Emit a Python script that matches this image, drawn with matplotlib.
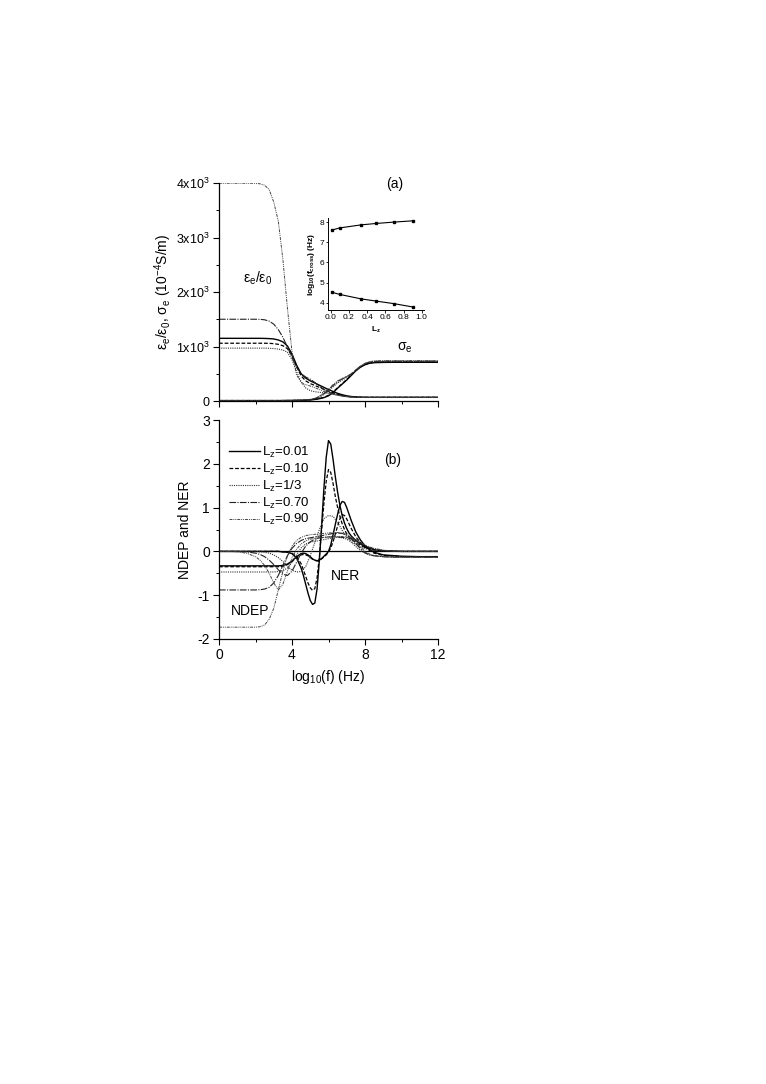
import matplotlib
matplotlib.use("Agg")
import matplotlib.pyplot as plt
from matplotlib.ticker import MultipleLocator, FixedLocator

plt.rcParams['font.family'] = ['Liberation Sans', 'DejaVu Sans']
plt.rcParams['mathtext.default'] = 'regular'
plt.rcParams['axes.unicode_minus'] = False

# ---------------- data ----------------
logf = [0, 0.5, 1, 1.5, 2, 2.25, 2.5, 2.75, 3, 3.25, 3.5, 3.75, 4, 4.25, 4.5, 4.75,
        5, 5.25, 5.5, 5.75, 6, 6.25, 6.5, 6.75, 7, 7.25, 7.5, 7.75, 8, 8.25, 8.5,
        9, 9.5, 10, 11, 12]
# finer sampling used for the sharp L_z=0.01 / 0.10 curves of panel (b)
logf_fine = [0, 1, 2, 2.5, 3, 3.25, 3.5, 3.75, 4, 4.25, 4.5,
             4.625, 4.75, 4.875, 5, 5.125, 5.25, 5.375, 5.5, 5.625, 5.75, 5.875, 6,
             6.125, 6.25, 6.375, 6.5, 6.625, 6.75, 6.875, 7, 7.125, 7.25,
             7.5, 7.75, 8, 8.25, 8.5, 9, 10, 11, 12]

labels = ['L$_z$=0.01', 'L$_z$=0.10', 'L$_z$=1/3', 'L$_z$=0.70', 'L$_z$=0.90']

# (a) effective permittivity eps_e/eps_0
eps_001 = [1150, 1150, 1150, 1150, 1150, 1150, 1148, 1145, 1138, 1120, 1085, 1010, 860, 660, 500, 420,
           370, 330, 290, 250, 210, 175, 140, 115, 95, 82, 75, 71, 69, 68, 68, 68, 68, 68, 68, 68]
eps_010 = [1060, 1060, 1060, 1060, 1060, 1060, 1060, 1058, 1052, 1040, 1015, 960, 830, 630, 460, 370,
           320, 285, 250, 215, 180, 150, 122, 100, 85, 76, 71, 68, 67, 67, 67, 67, 67, 67, 67, 67]
eps_13 = [970, 970, 970, 970, 970, 970, 970, 968, 962, 952, 935, 895, 760, 540, 350, 240,
          190, 170, 160, 150, 140, 125, 108, 92, 80, 72, 68, 66, 65, 65, 65, 65, 65, 65, 65, 65]
eps_070 = [1500, 1500, 1500, 1500, 1500, 1498, 1490, 1465, 1410, 1310, 1170, 990, 800, 620, 500, 440,
           400, 340, 270, 210, 165, 135, 112, 95, 83, 75, 70, 67, 65, 65, 65, 65, 65, 65, 65, 65]
eps_090 = [3995, 3995, 3995, 3995, 3995, 3985, 3960, 3880, 3650, 3300, 2600, 1700, 900, 480, 340, 300,
           275, 245, 210, 175, 145, 122, 104, 90, 80, 73, 68, 66, 64, 64, 64, 64, 64, 64, 64, 64]

# (a) effective conductivity sigma_e (1e-4 S/m)
sig_001 = [8, 8, 8, 8, 8, 8, 8, 8, 8, 8, 8, 9, 9, 10, 11, 14,
           20, 28, 42, 62, 95, 155, 235, 310, 385, 470, 555, 620, 665, 692, 703, 708, 710, 710, 710, 710]
sig_010 = [8, 8, 8, 8, 8, 8, 8, 8, 8, 8, 8, 9, 9, 10, 12, 16,
           22, 32, 46, 68, 105, 165, 245, 320, 395, 478, 560, 625, 670, 697, 710, 716, 716, 716, 716, 716]
sig_13 = [8, 8, 8, 8, 8, 8, 8, 8, 8, 8, 9, 10, 11, 13, 16, 20,
          25, 40, 70, 120, 185, 260, 330, 385, 430, 490, 560, 630, 680, 708, 720, 725, 725, 725, 725, 725]
sig_070 = [8, 8, 8, 8, 8, 8, 8, 8, 8, 8, 9, 10, 11, 14, 17, 22,
           28, 45, 80, 135, 205, 285, 355, 405, 445, 500, 570, 638, 688, 715, 728, 732, 732, 732, 732, 732]
sig_090 = [8, 8, 8, 8, 8, 8, 8, 8, 8, 9, 10, 11, 12, 15, 18, 24,
           30, 50, 88, 145, 220, 300, 370, 415, 450, 500, 570, 640, 692, 722, 735, 740, 740, 740, 740, 740]

# (b) NDEP (real part) and NER (imaginary part); 0.01 and 0.10 on logf_fine
ndep_001 = [-0.33, -0.33, -0.33, -0.33, -0.33, -0.33, -0.32, -0.29, -0.22, -0.12, -0.05,
            -0.04, -0.05, -0.08, -0.12, -0.17, -0.20, -0.22, -0.20, -0.16, -0.11, -0.06, 0.00,
            0.15, 0.38, 0.62, 0.85, 1.05, 1.14, 1.12, 1.00, 0.85, 0.70,
            0.44, 0.26, 0.13, 0.04, -0.02, -0.08, -0.11, -0.12, -0.12]
ner_001 = [0, 0, 0, 0, 0, 0, -0.01, -0.02, -0.05, -0.15, -0.38,
           -0.55, -0.75, -0.95, -1.12, -1.21, -1.18, -0.85, -0.20, 0.60, 1.45, 2.15, 2.53,
           2.45, 2.10, 1.70, 1.35, 1.05, 0.82, 0.65, 0.52, 0.42, 0.35,
           0.25, 0.17, 0.11, 0.07, 0.04, 0.01, 0, 0, 0]
ndep_010 = [-0.35, -0.35, -0.35, -0.35, -0.35, -0.35, -0.34, -0.30, -0.23, -0.14, -0.08,
            -0.07, -0.08, -0.10, -0.14, -0.18, -0.20, -0.21, -0.20, -0.17, -0.13, -0.08, -0.02,
            0.08, 0.22, 0.40, 0.58, 0.74, 0.84, 0.82, 0.74, 0.63, 0.52,
            0.33, 0.20, 0.10, 0.02, -0.04, -0.09, -0.12, -0.12, -0.12]
ner_010 = [0, 0, 0, 0, 0, 0, -0.01, -0.02, -0.04, -0.12, -0.28,
           -0.42, -0.57, -0.72, -0.83, -0.89, -0.85, -0.60, -0.12, 0.50, 1.10, 1.60, 1.87,
           1.80, 1.55, 1.25, 1.00, 0.80, 0.63, 0.50, 0.40, 0.33, 0.28,
           0.20, 0.14, 0.09, 0.05, 0.03, 0.01, 0, 0, 0]
ndep_13 = [-0.47, -0.47, -0.47, -0.47, -0.47, -0.47, -0.47, -0.47, -0.47, -0.46, -0.44, -0.38, -0.25, -0.08,
           0.08, 0.17, 0.21, 0.23, 0.25, 0.27, 0.29, 0.31, 0.32, 0.31, 0.28, 0.21, 0.11, 0.02, -0.04,
           -0.08, -0.10, -0.12, -0.13, -0.13, -0.13, -0.13]
ner_13 = [0, 0, 0, 0, 0, -0.01, -0.02, -0.04, -0.08, -0.14, -0.23, -0.34, -0.43, -0.47, -0.46, -0.35,
          -0.10, 0.20, 0.50, 0.75, 0.82, 0.80, 0.66, 0.48, 0.33, 0.23, 0.16, 0.10, 0.06, 0.04, 0.02,
          0.01, 0, 0, 0, 0]
ndep_070 = [-0.88, -0.88, -0.88, -0.88, -0.88, -0.875, -0.86, -0.82, -0.72, -0.55, -0.32, -0.10, 0.07, 0.18,
            0.25, 0.29, 0.31, 0.33, 0.35, 0.37, 0.39, 0.41, 0.42, 0.41, 0.37, 0.30, 0.18, 0.06, -0.03,
            -0.08, -0.10, -0.12, -0.13, -0.13, -0.13, -0.13]
ner_070 = [0, 0, 0, -0.01, -0.04, -0.07, -0.12, -0.20, -0.30, -0.42, -0.52, -0.55, -0.45, -0.25, -0.04, 0.12,
           0.22, 0.28, 0.31, 0.32, 0.33, 0.33, 0.33, 0.32, 0.31, 0.28, 0.24, 0.19, 0.13, 0.09, 0.06,
           0.02, 0.01, 0, 0, 0]
ndep_090 = [-1.73, -1.73, -1.73, -1.73, -1.73, -1.72, -1.68, -1.55, -1.30, -0.88, -0.45, -0.10, 0.12, 0.25,
            0.32, 0.36, 0.38, 0.39, 0.40, 0.41, 0.42, 0.43, 0.43, 0.42, 0.39, 0.33, 0.22, 0.10, 0.00,
            -0.06, -0.09, -0.12, -0.13, -0.13, -0.13, -0.13]
ner_090 = [0, 0, -0.01, -0.04, -0.12, -0.20, -0.32, -0.50, -0.72, -0.88, -0.75, -0.45, -0.15, 0.05, 0.17, 0.24,
           0.28, 0.30, 0.31, 0.32, 0.33, 0.34, 0.34, 0.34, 0.33, 0.31, 0.27, 0.21, 0.15, 0.10, 0.07,
           0.03, 0.01, 0, 0, 0]

# inset: crossover frequencies
Lz_inset = [0.01, 0.10, 1/3, 0.50, 0.70, 0.90]
fcross_high = [7.60, 7.71, 7.86, 7.93, 8.00, 8.06]
fcross_low = [4.53, 4.42, 4.20, 4.09, 3.96, 3.80]

eps_all = [eps_001, eps_010, eps_13, eps_070, eps_090]
sig_all = [sig_001, sig_010, sig_13, sig_070, sig_090]
ndep_all = [ndep_001, ndep_010, ndep_13, ndep_070, ndep_090]
ner_all = [ner_001, ner_010, ner_13, ner_070, ner_090]
xb_all = [logf_fine, logf_fine, logf, logf, logf]

styles = [dict(color='black', lw=1.0, ls='-'),
          dict(color='black', lw=0.9, ls=(0, (3, 1.5))),
          dict(color='#333333', lw=0.8, ls=(0, (1, 1))),
          dict(color='#222222', lw=0.8, ls=(0, (6, 1.2, 1, 1.2))),
          dict(color='#444444', lw=0.7, ls=(0, (3, 1, 1, 1, 1, 1)))]

# ---------------- figure ----------------
fig = plt.figure(figsize=(7.66, 10.84), dpi=100)
W, H = 766, 1084
def box(l, t, r, b):
    return [l / W, 1 - b / H, (r - l) / W, (b - t) / H]

axA = fig.add_axes(box(219, 183, 438, 401))
axB = fig.add_axes(box(219, 420, 438, 639))

for ax in (axA, axB):
    ax.spines['top'].set_visible(False)
    ax.spines['right'].set_visible(False)
    ax.spines['left'].set_linewidth(0.9)
    ax.spines['bottom'].set_linewidth(0.9)
    ax.set_xlim(0, 12)
    ax.xaxis.set_major_locator(FixedLocator([0, 4, 8, 12]))
    ax.xaxis.set_minor_locator(FixedLocator([2, 6, 10]))
    ax.tick_params(which='major', direction='out', length=4, width=0.8, labelsize=10, pad=2.5)
    ax.tick_params(which='minor', direction='out', length=2.2, width=0.7)

# panel (a)
for e, s, st in zip(eps_all, sig_all, styles):
    axA.plot(logf, e, **st)
    axA.plot(logf, s, **st)
axA.set_ylim(0, 4000)
axA.yaxis.set_major_locator(FixedLocator([0, 1000, 2000, 3000, 4000]))
axA.yaxis.set_minor_locator(MultipleLocator(500))
axA.set_yticklabels(['0', '1x10$^3$', '2x10$^3$', '3x10$^3$', '4x10$^3$'])
axA.tick_params(axis='y', labelsize=9)
axA.tick_params(axis='x', labelbottom=False)
axA.set_ylabel(r'$\varepsilon_e/\varepsilon_0$, $\sigma_e$ (10$^{-4}$S/m)', fontsize=10)
axA.yaxis.set_label_coords((174 - 219) / 219, 0.5)
fig.text(258 / W, 1 - 278 / H, r'$\varepsilon_e/\varepsilon_0$', fontsize=10, ha='center', va='center')
fig.text(405 / W, 1 - 348 / H, r'$\sigma_e$', fontsize=10, ha='center', va='center')
fig.text(395 / W, 1 - 184 / H, '(a)', fontsize=10, ha='center', va='center')

# inset
axI = fig.add_axes(box(328, 218, 423.6, 310))
axI.plot(Lz_inset, fcross_high, color='black', lw=0.8, marker='s', ms=2)
axI.plot(Lz_inset, fcross_low, color='black', lw=0.8, marker='s', ms=2)
axI.set_xlim(-0.03, 1.02)
axI.set_ylim(3.65, 8.2)
axI.spines['top'].set_visible(False)
axI.spines['right'].set_visible(False)
axI.spines['left'].set_linewidth(0.7)
axI.spines['bottom'].set_linewidth(0.7)
axI.xaxis.set_major_locator(FixedLocator([0, 0.2, 0.4, 0.6, 0.8, 1.0]))
axI.yaxis.set_major_locator(FixedLocator([4, 5, 6, 7, 8]))
axI.set_xticklabels(['0.0', '0.2', '0.4', '0.6', '0.8', '1.0'])
axI.tick_params(direction='out', length=1.8, width=0.6, labelsize=6, pad=1)
axI.set_xlabel('L$_z$', fontsize=6, fontweight='bold', labelpad=3)
axI.set_ylabel('log$_{10}$(f$_{cross}$) (Hz)', fontsize=6, fontweight='bold', labelpad=1.5)

# panel (b)
axB.axhline(0, color='black', lw=0.9)
handles = []
for xb, nd, nr, st, lab in zip(xb_all, ndep_all, ner_all, styles, labels):
    h, = axB.plot(xb, nd, label=lab, **st)
    axB.plot(xb, nr, **st)
    handles.append(h)
axB.set_ylim(-2, 3)
axB.yaxis.set_major_locator(FixedLocator([-2, -1, 0, 1, 2, 3]))
axB.yaxis.set_minor_locator(MultipleLocator(0.5))
axB.set_xlabel('log$_{10}$(f) (Hz)', fontsize=10, labelpad=4)
axB.set_ylabel('NDEP and NER', fontsize=10)
axB.yaxis.set_label_coords((192 - 219) / 219, 0.5)
axB.legend(handles=handles, loc='upper left', bbox_to_anchor=((229 - 219) / 219, 1 - (445 - 420) / 219),
           frameon=False, fontsize=9.5, handlelength=2.35, handletextpad=0.15, labelspacing=0.13,
           borderpad=0, borderaxespad=0)
fig.text(393 / W, 1 - 460 / H, '(b)', fontsize=10, ha='center', va='center')
fig.text(250 / W, 1 - 611 / H, 'NDEP', fontsize=10, ha='center', va='center')
fig.text(345 / W, 1 - 576 / H, 'NER', fontsize=10, ha='center', va='center')

fig.savefig('out.png', dpi=100)
